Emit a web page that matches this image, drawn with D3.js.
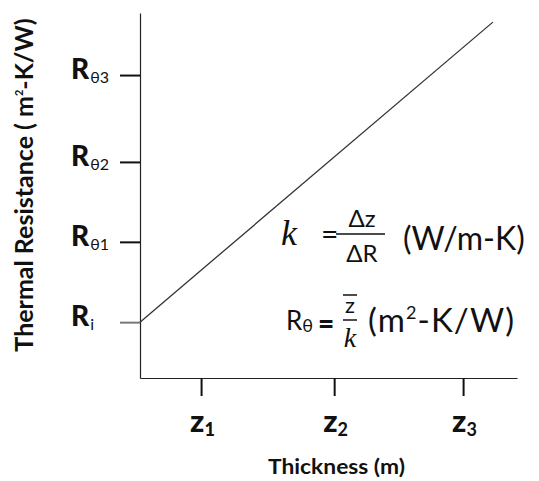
<!DOCTYPE html>
<html><head><meta charset="utf-8">
<script src="https://cdn.jsdelivr.net/npm/d3@7"></script>
<style>body{margin:0;background:#fff}svg{display:block}</style>
</head><body>
<script>
// Data
const xTickValues = [1.62, 5.15, 8.57];
const xTickLabels = [["z","1"],["z","2"],["z","3"]];
const yTickValues = [1.53, 3.73, 5.92, 8.30];
const yTickLabels = [["R","i"],["R","θ1"],["R","θ2"],["R","θ3"]];
const lineX = [0, 9.36];
const lineY = [1.53, 9.75];

const W = 539, H = 481;
const svg = d3.select("body").append("svg").attr("width", W).attr("height", H);
const font = "Lato, 'Open Sans', sans-serif";
const serif = "'Liberation Serif', 'DejaVu Serif', serif";

const x = d3.scaleLinear().domain([0, 10]).range([140, 517]);
const y = d3.scaleLinear().domain([0, 10]).range([378, 13]);

// X axis
const gx = svg.append("g").attr("transform", "translate(0,378)")
  .call(d3.axisBottom(x).tickValues(xTickValues).tickSize(18).tickSizeOuter(0).tickFormat(""));
gx.select(".domain").attr("stroke", "#222").attr("stroke-width", 1.2);
gx.selectAll(".tick line").attr("stroke", "#111").attr("stroke-width", 2);

// Y axis
const gy = svg.append("g").attr("transform", "translate(140,0)")
  .call(d3.axisLeft(y).tickValues(yTickValues).tickSize(20).tickSizeOuter(0).tickFormat(""));
gy.select(".domain").attr("stroke", "#222").attr("stroke-width", 1.2);
gy.selectAll(".tick line").attr("stroke", (d,i) => i === 0 ? "#777" : "#111").attr("stroke-width", 2);

// Line
const pts = lineX.map((v,i) => [v, lineY[i]]);
svg.append("path").datum(pts)
  .attr("d", d3.line().x(d => x(d[0])).y(d => y(d[1])))
  .attr("fill", "none").attr("stroke", "#333").attr("stroke-width", 1.3);

// Y tick labels
yTickLabels.forEach((lab, i) => {
  const t = svg.append("text").attr("x", 71).attr("y", y(yTickValues[i]) + 4)
    .attr("font-family", font).attr("fill", "#111");
  t.append("tspan").text(lab[0]).attr("font-size", 28).attr("font-weight", 900);
  t.append("tspan").text(lab[1]).attr("font-size", 16).attr("font-weight", 400).attr("dy", 4).attr("dx", 1);
});

// X tick labels
xTickLabels.forEach((lab, i) => {
  const t = svg.append("text").attr("x", x(xTickValues[i]) - 11).attr("y", 432)
    .attr("font-family", font).attr("fill", "#111");
  t.append("tspan").text(lab[0]).attr("font-size", 31).attr("font-weight", 900);
  t.append("tspan").text(lab[1]).attr("font-size", 18).attr("font-weight", i === 0 ? 900 : 700).attr("dy", 4);
});

// Axis titles
svg.append("text").attr("x", 268).attr("y", 474)
  .attr("font-family", font).attr("font-weight", 700).attr("font-size", 20).attr("fill", "#111")
  .attr("textLength", 137).attr("lengthAdjust", "spacingAndGlyphs")
  .text("Thickness (m)");

const yt = svg.append("text").attr("transform", "translate(33,185) rotate(-90)")
  .attr("text-anchor", "middle").attr("font-family", font).attr("font-weight", 700)
  .attr("font-size", 25).attr("fill", "#111");
yt.append("tspan").text("Thermal Resistance ( m");
yt.append("tspan").text("2").attr("font-size", 11).attr("dy", -10);
yt.append("tspan").text("-K/W)").attr("dy", 10);

// Equation 1: k = Δz/ΔR (W/m-K)
svg.append("text").attr("x", 281).attr("y", 245).attr("font-family", serif)
  .attr("font-style", "italic").attr("font-size", 36).attr("fill", "#111").text("k");
svg.append("text").attr("x", 321).attr("y", 245).attr("font-family", font)
  .attr("font-size", 30).attr("fill", "#111").text("=");
svg.append("line").attr("x1", 336).attr("x2", 385).attr("y1", 234).attr("y2", 234)
  .attr("stroke", "#111").attr("stroke-width", 1.5);
svg.append("text").attr("x", 362).attr("y", 227).attr("text-anchor", "middle").attr("font-family", font)
  .attr("font-size", 24).attr("fill", "#111").text("Δz");
svg.append("text").attr("x", 362).attr("y", 262).attr("text-anchor", "middle").attr("font-family", font)
  .attr("font-size", 24).attr("fill", "#111").text("ΔR");
svg.append("text").attr("x", 403).attr("y", 250).attr("font-family", font)
  .attr("font-size", 32).attr("fill", "#111").text("(W/m-K)");

// Equation 2: Rθ = z̄/k (m²-K/W)
const e2 = svg.append("text").attr("x", 286).attr("y", 330).attr("font-family", font).attr("fill", "#111");
e2.append("tspan").text("R").attr("font-size", 26);
e2.append("tspan").text("θ").attr("font-size", 18).attr("dy", 2);
svg.append("text").attr("x", 318).attr("y", 334).attr("font-family", font).attr("font-weight", 900)
  .attr("font-size", 28).attr("fill", "#111").text("=");
svg.append("line").attr("x1", 343).attr("x2", 357).attr("y1", 295).attr("y2", 295)
  .attr("stroke", "#111").attr("stroke-width", 1.5);
svg.append("text").attr("x", 350).attr("y", 313).attr("text-anchor", "middle").attr("font-family", font)
  .attr("font-size", 22).attr("fill", "#111").text("z");
svg.append("line").attr("x1", 343).attr("x2", 357).attr("y1", 320).attr("y2", 320)
  .attr("stroke", "#111").attr("stroke-width", 1.5);
svg.append("text").attr("x", 350).attr("y", 347).attr("text-anchor", "middle").attr("font-family", serif)
  .attr("font-style", "italic").attr("font-size", 28).attr("fill", "#111").text("k");
const e3 = svg.append("text").attr("x", 368).attr("y", 332).attr("font-family", font)
  .attr("font-size", 33).attr("fill", "#111").attr("textLength", 146);
e3.append("tspan").text("(m");
e3.append("tspan").text("2").attr("font-size", 18).attr("dy", -13);
e3.append("tspan").text("-K/W)").attr("dy", 13);
</script>
</body></html>
